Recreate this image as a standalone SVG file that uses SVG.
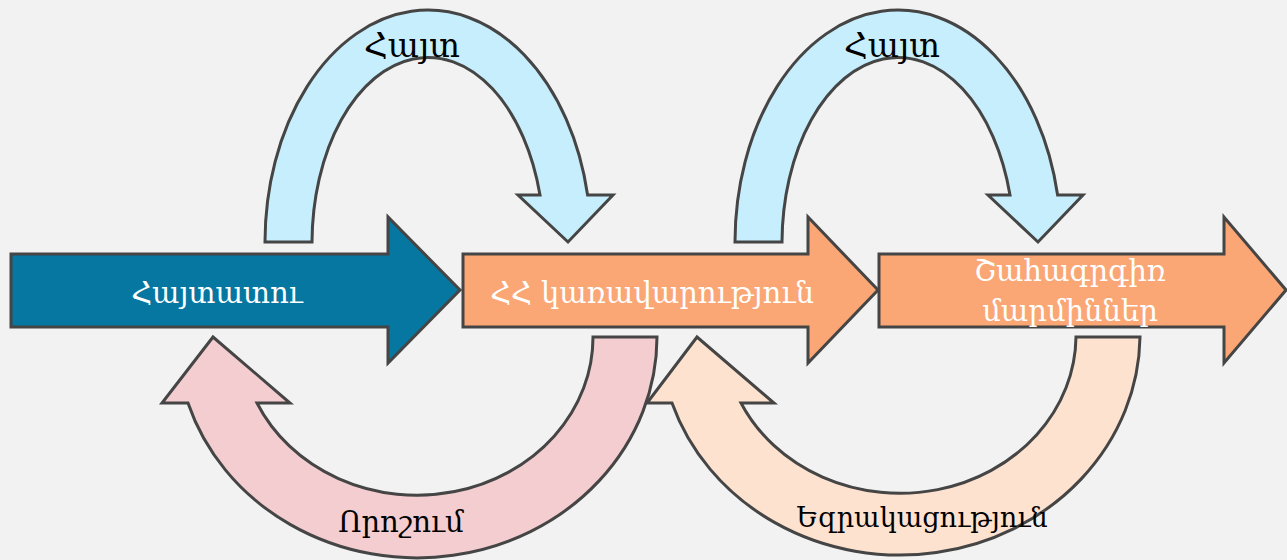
<svg xmlns="http://www.w3.org/2000/svg" width="1287" height="560" viewBox="0 0 1287 560">
<style>
.sh{stroke:#454545;stroke-width:3;stroke-linejoin:miter}
.w{fill:#ffffff;font-family:"DejaVu Serif",serif;text-anchor:middle}
.b{fill:#000000;font-family:"DejaVu Serif",serif;text-anchor:middle}
</style>
<rect width="1287" height="560" fill="#F2F2F2"/>
<g id="connectors">
<g id="arc-hayt-1">
<path class="sh" fill="#C7EEFC" d="M265,242 A163,232 0 0 1 587.6,195 L613,195 L568,242 L518,195 L540,195 A116,186 0 0 0 312,242 Z"/>
<text class="b" x="412" y="57" font-size="33">Հայտ</text>
</g>
<g id="arc-hayt-2">
<path class="sh" fill="#C7EEFC" d="M735,242 A163,232 0 0 1 1057.6,195 L1083,195 L1038,242 L988,195 L1010,195 A116,186 0 0 0 782,242 Z"/>
<text class="b" x="892" y="57" font-size="33">Հայտ</text>
</g>
<g id="arc-ezrakacutyun">
<path class="sh" fill="#FEE2D0" d="M1140,337 A240,221 0 0 1 672,403 L647,403 L697,337 L774,403 L741,403 A176,158 0 0 0 1076,337 Z"/>
<text class="b" x="922" y="527" font-size="27">Եզրակացություն</text>
</g>
<g id="arc-voroshum">
<path class="sh" fill="#F3CDD0" d="M657,337 A240,221 0 0 1 188,403 L162,403 L213,337 L290,403 L257,403 A176,158 0 0 0 593,337 Z"/>
<text class="b" x="401" y="532" font-size="29">Որոշում</text>
</g>
</g>
<g id="node-haytatu">
<path class="sh" fill="#0577A1" d="M11,254 L388,254 L388,217 L460,290 L388,363 L388,327 L11,327 Z"/>
<text class="w" x="217" y="303" font-size="29">Հայտատու</text>
</g>
<g id="node-hh">
<path class="sh" fill="#FAA775" d="M463,254 L808,254 L808,217 L878,290 L808,363 L808,327 L463,327 Z"/>
<text class="w" x="652" y="303" font-size="29">ՀՀ կառավարություն</text>
</g>
<g id="node-shahagrgir">
<path class="sh" fill="#FAA775" d="M879,254 L1224,254 L1224,217 L1286,290 L1224,363 L1224,327 L879,327 Z"/>
<text class="w" x="1070" y="281" font-size="29">Շահագրգիռ</text>
<text class="w" x="1070" y="321" font-size="29">մարմիններ</text>
</g>
</svg>
